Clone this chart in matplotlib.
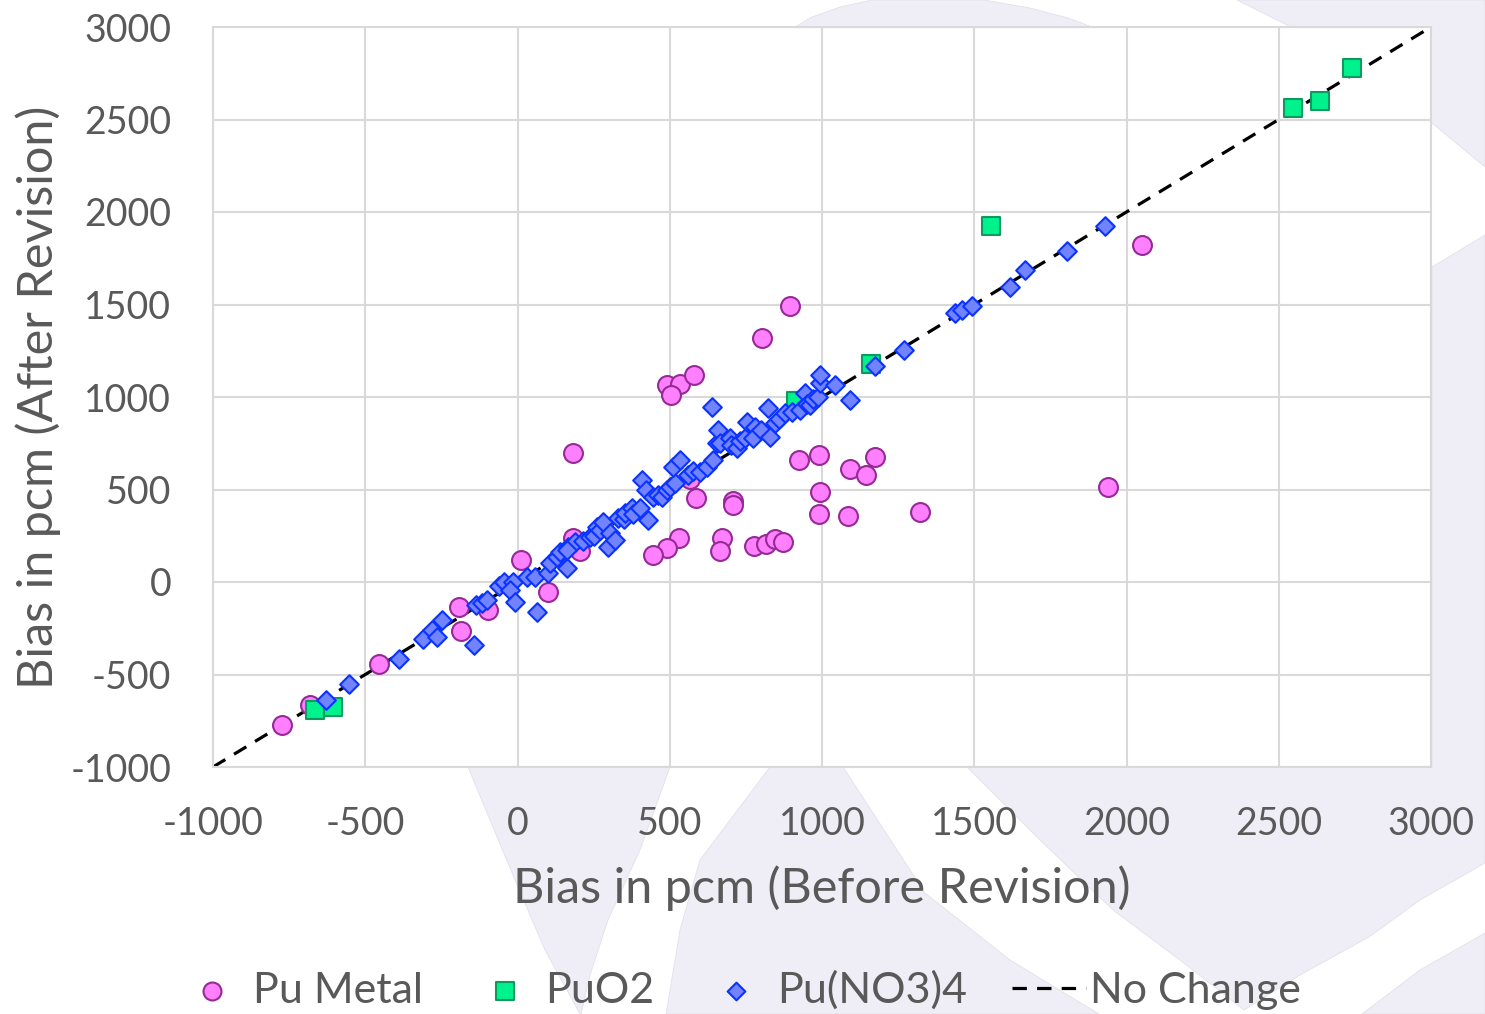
import numpy as np
import matplotlib
matplotlib.use("Agg")
import matplotlib.pyplot as plt
from matplotlib.patches import Polygon

plt.rcParams['font.family'] = ['Lato', 'DejaVu Sans']
plt.rcParams['axes.unicode_minus'] = False

# bias values, pcm
metal_before = [-775, -681, -455, -192, -186, -97, 11, 100, 182, 182, 205,
                895, 803, 491, 534, 580, 504, 567, 586, 707, 708, 672, 666,
                531, 491, 445, 777, 816, 846, 872, 924, 990, 1092, 1144, 1174,
                993, 990, 1085, 1322, 2051, 1939]
metal_after = [-775, -665, -443, -135, -265, -151, 119, -54, 697, 238, 168,
               1492, 1319, 1065, 1070, 1119, 1011, 557, 454, 438, 416, 238, 168,
               238, 184, 146, 195, 205, 232, 216, 659, 686, 611, 578, 676,
               486, 367, 357, 378, 1822, 514]

puo2_before = [-665, -606, 915, 1161, 1555, 2547, 2635, 2741]
puo2_after = [-692, -676, 978, 1178, 1924, 2562, 2600, 2778]

nitrate_before = [-629, -553, -389, -310, -281, -265, -248, -143, -136, -117,
                  -100, -61, -44, -15, -25, -8, 31, 57, 64, 100, 107, 130, 140,
                  163, 166, 189, 163, 215, 238, 250, 261, 270, 281, 304, 297,
                  320, 330, 350, 353, 376, 380, 402, 429, 409, 422, 445, 460,
                  475, 490, 501, 517, 511, 534, 560, 575, 599, 622, 642, 655,
                  639, 658, 665, 698, 700, 721, 730, 747, 754, 780, 773, 800,
                  829, 823, 846, 860, 878, 900, 928, 944, 950, 961, 970, 987,
                  993, 993, 1043, 1092, 1174, 1269, 1437, 1460, 1493, 1617,
                  1667, 1805, 1929]
nitrate_after = [-638, -551, -416, -308, -259, -297, -205, -341, -124, -114,
                 -97, -22, 0, 0, -43, -108, 27, 27, -162, 49, 103, 135, 162,
                 76, 189, 216, 173, 222, 243, 250, 297, 280, 324, 265, 189,
                 227, 346, 340, 373, 400, 370, 400, 335, 551, 497, 459, 470,
                 459, 500, 514, 535, 622, 659, 580, 600, 595, 622, 659, 751,
                 946, 822, 751, 778, 740, 724, 760, 778, 865, 838, 778, 820,
                 784, 941, 859, 880, 914, 920, 930, 1022, 960, 957, 990, 1000,
                 1076, 1119, 1065, 984, 1168, 1254, 1454, 1470, 1492, 1595,
                 1686, 1789, 1924]

line_x = [-1000, 3000]

W, H = 1485, 1014
fig = plt.figure(figsize=(W / 100, H / 100), dpi=100)

# faint watermark shapes behind the plot (pixel coords)
shapes = [
    [(790, 30), (812, 17), (840, 7), (872, 0), (984, 0), (1030, 8), (1068, 18), (1100, 30)],
    [(1237, 0), (1485, 0), (1485, 167), (1432, 123), (1287, 25)],
    [(468, 767), (670, 767), (640, 850), (608, 920), (590, 975), (581, 1014),
     (580, 1014), (545, 950), (515, 880), (490, 820)],
    [(770, 767), (843, 767), (925, 893), (1010, 960), (1099, 1014), (666, 1014), (680, 930), (700, 860)],
    [(967, 767), (1432, 767), (1432, 267), (1485, 235), (1485, 863), (1420, 900),
     (1369, 937), (1300, 975), (1244, 1010), (1180, 960), (1113, 910), (1040, 840)],
    [(1362, 1014), (1420, 970), (1485, 933), (1485, 1014)],
]
for pts in shapes:
    p = Polygon([(x / W, 1 - y / H) for x, y in pts], closed=True,
                transform=fig.transFigure, facecolor='#EFEEF6', edgecolor='#E2E1EC',
                lw=0.6, zorder=-5)
    fig.add_artist(p)

ax = fig.add_axes([213 / W, 1 - 767 / H, (1431 - 213) / W, (767 - 27) / H])
ax.set_facecolor('white')

ax.plot(line_x, line_x, color='black', lw=2.3, dashes=(4.5, 3.2), zorder=2, label='No Change')
ax.scatter(metal_before, metal_after, s=185, marker='o', facecolor='#FF80FF',
           edgecolor='#952A95', linewidths=1.5, zorder=3, label='Pu Metal')
ax.scatter(puo2_before, puo2_after, s=175, marker='s', facecolor='#00F28C',
           edgecolor='#0E9A5E', linewidths=1.5, zorder=4, label='PuO2')
ax.scatter(nitrate_before, nitrate_after, s=90, marker='D', facecolor='#7283FF',
           edgecolor='#0A33FF', linewidths=1.5, zorder=5, label='Pu(NO3)4')

ax.set_xlim(-1000, 3000)
ax.set_ylim(-1000, 3000)
ticks = [-1000, -500, 0, 500, 1000, 1500, 2000, 2500, 3000]
ax.set_xticks(ticks)
ax.set_yticks(ticks)
ax.grid(True, color='#D9D9D9', lw=1.5)
ax.set_axisbelow(True)
for s in ax.spines.values():
    s.set_color('#D9D9D9')
    s.set_linewidth(1.5)
ax.tick_params(length=0, labelsize=27, labelcolor='#595959')
ax.tick_params(axis='x', pad=28)
ax.tick_params(axis='y', pad=30)
ax.set_xlabel('Bias in pcm (Before Revision)', fontsize=35, color='#595959')
ax.set_ylabel('Bias in pcm (After Revision)', fontsize=35, color='#595959')
ax.xaxis.set_label_coords(0.5, (767 - 888) / 740, transform=ax.transAxes)
ax.yaxis.set_label_coords((38 - 213) / 1218, 0.5, transform=ax.transAxes)
ax.xaxis.label.set_va('center')
ax.yaxis.label.set_va('center')

h, l = ax.get_legend_handles_labels()
order = [1, 2, 3, 0]
fig.legend([h[i] for i in order], [l[i] for i in order], loc='center',
           bbox_to_anchor=(0.497, 1 - 990 / H), ncol=4, frameon=False, fontsize=31,
           labelcolor='#595959', handlelength=1.7, handletextpad=0.1,
           columnspacing=1.05, markerscale=0.95, borderpad=0)

fig.savefig('out.png', dpi=100)
